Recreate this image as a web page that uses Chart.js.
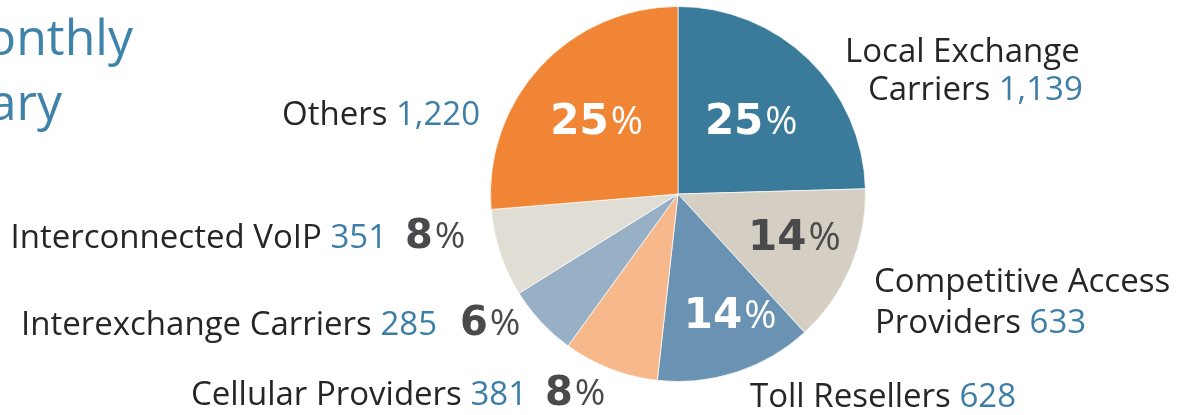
<!DOCTYPE html>
<html>
<head>
<meta charset="utf-8">
<title>Filers by type</title>
<script src="https://cdn.jsdelivr.net/npm/chart.js@4"></script>
<style>
  html, body { margin: 0; padding: 0; background: #fff; }
  .chart-wrap { position: relative; width: 1189px; height: 415px; }
</style>
</head>
<body>
<div class="chart-wrap">
  <canvas id="myChart"></canvas>
</div>
<script>
// data, clockwise from 12 o'clock
const categories = [
  'Local Exchange Carriers',
  'Competitive Access Providers',
  'Toll Resellers',
  'Cellular Providers',
  'Interexchange Carriers',
  'Interconnected VoIP',
  'Others'
];
const filerCounts = [1139, 633, 628, 381, 285, 351, 1220];
const percentShown = [25, 14, 14, 8, 6, 8, 25];

const sliceColors = ['#3a7a9b', '#d5cfc3', '#6a92b2', '#f7b98b', '#98b0c6', '#e0ddd5', '#f08535'];

const FONT = '"Open Sans", "Noto Sans", sans-serif';
const PCT_FONT = '"DejaVu Sans", sans-serif';
const TEXT_DARK = '#262626';
const TEXT_BLUE = '#3d7ea6';
const PCT_DARK = '#4a4a4d';

// where each label goes (name lines, then value / percent placement)
const labelLayout = [
  { lines: [['Local Exchange', false], ['Carriers', true]], x: [845, 868], y: [62, 100], inside: { r: 0.56, dx: 0, dy: 0, color: '#fff' } },
  { lines: [['Competitive Access', false], ['Providers', true]], x: [874, 875], y: [292, 333], inside: { r: 0.64, dx: 6, dy: -6, color: PCT_DARK } },
  { lines: [['Toll Resellers', true]], x: [750], y: [407], inside: { r: 0.69, dx: 12, dy: -4, color: '#fff' } },
  { right: 527, y: 405, name: 'Cellular Providers', pctX: 545 },
  { right: 437, y: 335, name: 'Interexchange Carriers', pctX: 460 },
  { right: 387, y: 248, name: 'Interconnected VoIP', pctX: 405 },
  { right: 480, y: 125, name: 'Others', inside: { r: 0.59, dx: 0, dy: 0, color: '#fff' } }
];

function fmt(n) { return n.toLocaleString('en-US'); }

function drawPercent(ctx, pct, x, y, align, color, size) {
  const numFont = 'bold ' + size + 'px ' + PCT_FONT;
  const signFont = Math.round(size * 0.92) + 'px ' + FONT;
  const gap = 2;
  ctx.font = numFont;
  const wNum = ctx.measureText(String(pct)).width;
  ctx.font = signFont;
  const wSign = ctx.measureText('%').width;
  let left = x;
  if (align === 'center') left = x - (wNum + wSign + gap) / 2;
  ctx.fillStyle = color;
  ctx.textAlign = 'left';
  ctx.font = numFont;
  ctx.fillText(String(pct), left, y);
  ctx.font = signFont;
  ctx.fillText('%', left + wNum + gap, y);
}

const labelPlugin = {
  id: 'pieLabels',
  afterDraw(chart) {
    const ctx = chart.ctx;
    const arcs = chart.getDatasetMeta(0).data;
    ctx.save();
    ctx.textBaseline = 'alphabetic';

    // title, cut off at the left edge like the reference
    ctx.fillStyle = '#3f82aa';
    ctx.font = '50px ' + FONT;
    ctx.textAlign = 'right';
    ctx.fillText('Monthly', 133, 55);
    ctx.fillText('Summary', 62, 120);

    const labelFont = '33px ' + FONT;
    labelLayout.forEach((lay, i) => {
      const value = fmt(filerCounts[i]);
      ctx.font = labelFont;
      if (lay.lines) {
        lay.lines.forEach(([txt, withValue], k) => {
          ctx.textAlign = 'left';
          ctx.fillStyle = TEXT_DARK;
          ctx.fillText(txt, lay.x[k], lay.y[k]);
          if (withValue) {
            const w = ctx.measureText(txt + ' ').width;
            ctx.fillStyle = TEXT_BLUE;
            ctx.fillText(value, lay.x[k] + w, lay.y[k]);
          }
        });
      } else {
        ctx.textAlign = 'right';
        ctx.fillStyle = TEXT_BLUE;
        ctx.fillText(value, lay.right, lay.y);
        const wv = ctx.measureText(' ' + value).width;
        ctx.fillStyle = TEXT_DARK;
        ctx.fillText(lay.name, lay.right - wv, lay.y);
        if (lay.pctX) drawPercent(ctx, percentShown[i], lay.pctX, lay.y, 'left', PCT_DARK, 40);
      }

      if (lay.inside) {
        const a = arcs[i];
        const mid = (a.startAngle + a.endAngle) / 2;
        const r = a.outerRadius * lay.inside.r;
        const cx = a.x + Math.cos(mid) * r + lay.inside.dx;
        const cy = a.y + Math.sin(mid) * r + lay.inside.dy;
        drawPercent(ctx, percentShown[i], cx, cy + 15, 'center', lay.inside.color, 42);
      }
    });
    ctx.restore();
  }
};

const ctx = document.getElementById('myChart').getContext('2d');
new Chart(ctx, {
  type: 'pie',
  data: {
    labels: categories,
    datasets: [{
      data: filerCounts,
      backgroundColor: sliceColors,
      borderColor: 'rgba(255,255,255,0.7)',
      borderWidth: 1
    }]
  },
  options: {
    responsive: true,
    maintainAspectRatio: false,
    animation: false,
    layout: {
      padding: { left: 490, right: 323, top: 6, bottom: 33 }
    },
    plugins: {
      legend: { display: false },
      tooltip: { enabled: false }
    }
  },
  plugins: [labelPlugin]
});
</script>
</body>
</html>
